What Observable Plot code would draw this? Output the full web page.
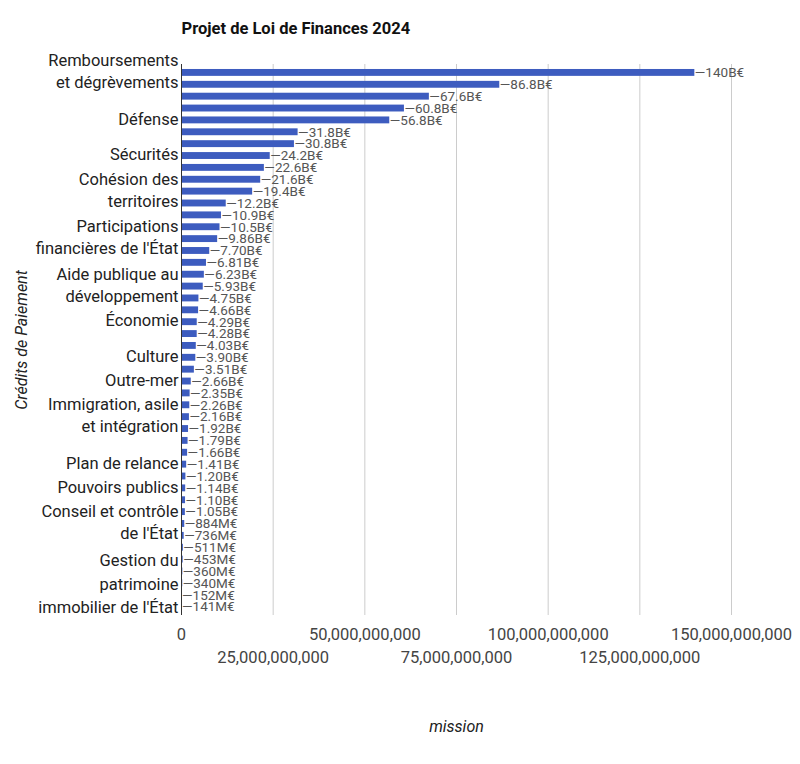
<!DOCTYPE html>
<html><head><meta charset="utf-8">
<script src="https://cdn.jsdelivr.net/npm/d3@7"></script>
<script src="https://cdn.jsdelivr.net/npm/@observablehq/plot@0.6"></script>
<style>
body{margin:0;background:#fff;font-family:Roboto,sans-serif}
#chart{width:800px;height:764px}
</style></head><body><div id="chart"></div>
<script>
// Missions (budget lines), top to bottom
const missions = [
  "Remboursements et dégrèvements",
  "Enseignement scolaire",
  "Pensions",
  "Engagements financiers de l'État",
  "Défense",
  "Recherche et enseignement supérieur",
  "Solidarité, insertion et égalité des chances",
  "Sécurités",
  "Travail et emploi",
  "Écologie, développement et mobilité durables",
  "Cohésion des territoires",
  "Gestion des finances publiques",
  "Justice",
  "Investir pour la France de 2030",
  "Participations financières de l'État",
  "Régimes sociaux et de retraite",
  "Administration générale et territoriale de l'État",
  "Relations avec les collectivités territoriales",
  "Aide publique au développement",
  "Agriculture, alimentation, forêt et affaires rurales",
  "Anciens combattants, mémoire et liens avec la Nation",
  "Économie",
  "Action extérieure de l'État",
  "Transformation et fonction publiques",
  "Culture",
  "Direction de l'action du Gouvernement",
  "Outre-mer",
  "Sport, jeunesse et vie associative",
  "Santé",
  "Immigration, asile et intégration",
  "Médias, livre et industries culturelles",
  "Contrôle de la circulation et du stationnement routiers",
  "Financement des aides aux collectivités pour l'électrification rurale",
  "Plan de relance",
  "Crédits non répartis",
  "Pouvoirs publics",
  "Développement agricole et rural",
  "Services nationaux de transport conventionnés de voyageurs",
  "Conseil et contrôle de l'État",
  "Financement national du développement et de la modernisation de l'apprentissage",
  "Participation de la France au désendettement de la Grèce",
  "Publications officielles et information administrative",
  "Contrôle et exploitation aériens",
  "Gestion du patrimoine immobilier de l'État",
  "Prêts à des États étrangers",
  "Accords monétaires internationaux"
];
// Crédits de paiement (euros)
const credits = [
  140e9, 86.8e9, 67.6e9, 60.8e9, 56.8e9, 31.8e9, 30.8e9, 24.2e9, 22.6e9, 21.6e9,
  19.4e9, 12.2e9, 10.9e9, 10.5e9, 9.86e9, 7.70e9, 6.81e9, 6.23e9, 5.93e9, 4.75e9,
  4.66e9, 4.29e9, 4.28e9, 4.03e9, 3.90e9, 3.51e9, 2.66e9, 2.35e9, 2.26e9, 2.16e9,
  1.92e9, 1.79e9, 1.66e9, 1.41e9, 1.20e9, 1.14e9, 1.10e9, 1.05e9, 884e6, 736e6,
  511e6, 453e6, 360e6, 340e6, 152e6, 141e6
];
// Category labels that are shown on the axis (wrapped as in the reference)
const tickMissions = [
  "Remboursements et dégrèvements", "Défense", "Sécurités", "Cohésion des territoires",
  "Participations financières de l'État", "Aide publique au développement", "Économie",
  "Culture", "Outre-mer", "Immigration, asile et intégration", "Plan de relance",
  "Pouvoirs publics", "Conseil et contrôle de l'État", "Gestion du patrimoine immobilier de l'État"
];
const tickLabels = [
  "Remboursements\net dégrèvements", "Défense", "Sécurités", "Cohésion des\nterritoires",
  "Participations\nfinancières de l'État", "Aide publique au\ndéveloppement", "Économie",
  "Culture", "Outre-mer", "Immigration, asile\net intégration", "Plan de relance",
  "Pouvoirs publics", "Conseil et contrôle\nde l'État", "Gestion du\npatrimoine\nimmobilier de l'État"
];
const xTicks = [0, 25e9, 50e9, 75e9, 100e9, 125e9, 150e9];
const titleText = "Projet de Loi de Finances 2024";
const xTitle = "mission";
const yTitle = "Crédits de Paiement";

const data = missions.map((m, i) => ({mission: m, credit: credits[i]}));
const fmtVal = v => "—" + d3.format(".3s")(v).replace("G", "B") + "€";
const fmtTick = d3.format(",");
const labelOf = new Map(tickMissions.map((m, i) => [m, tickLabels[i]]));
const shortTicks = tickMissions.filter(m => labelOf.get(m).split("\n").length < 3);
const longTicks = tickMissions.filter(m => labelOf.get(m).split("\n").length >= 3);

const chart = Plot.plot({
  width: 800, height: 764,
  marginLeft: 181, marginRight: 69, marginTop: 64, marginBottom: 149,
  style: {fontFamily: "Roboto, sans-serif", background: "#fff", overflow: "visible"},
  x: {domain: [0, 150e9], axis: null},
  y: {domain: missions, padding: 0.42, axis: null},
  marks: [
    Plot.gridX(xTicks.slice(1), {stroke: "#cccccc", strokeOpacity: 1}),
    Plot.barX(data, {x: "credit", y: "mission", fill: "#3d5cbf"}),
    Plot.ruleX([0], {stroke: "#333"}),
    Plot.text(data, {x: "credit", y: "mission", text: d => fmtVal(d.credit), textAnchor: "start", dx: 0, fill: "#555", fontSize: 13.5}),
    Plot.text(shortTicks, {y: d => d, text: d => labelOf.get(d), frameAnchor: "left", textAnchor: "end", dx: -3, dy: -3, fontSize: 16.5, lineHeight: 1.35, fill: "#222"}),
    Plot.text(longTicks, {y: d => d, text: d => labelOf.get(d), frameAnchor: "left", textAnchor: "end", dx: -3, dy: -1, fontSize: 16.5, lineHeight: 1.42, fill: "#222"}),
    Plot.text(xTicks.filter((d, i) => i % 2 === 0), {x: d => d, text: d => fmtTick(d), frameAnchor: "bottom", dy: 24, fontSize: 16.5, fill: "#444"}),
    Plot.text(xTicks.filter((d, i) => i % 2 === 1), {x: d => d, text: d => fmtTick(d), frameAnchor: "bottom", dy: 47, fontSize: 16.5, fill: "#444"}),
    Plot.text([xTitle], {text: d => d, frameAnchor: "bottom", dy: 116, fontStyle: "italic", fontSize: 16, fill: "#222"}),
    Plot.text([yTitle], {text: d => d, frameAnchor: "left", textAnchor: "middle", dx: -160, rotate: -90, fontStyle: "italic", fontSize: 16, fill: "#222"}),
    Plot.text([titleText], {text: d => d, frameAnchor: "top-left", dy: -42, textAnchor: "start", fontWeight: "bold", fontSize: 16.5, fill: "#111"})
  ]
});
document.getElementById("chart").appendChild(chart);
</script>
</body></html>
